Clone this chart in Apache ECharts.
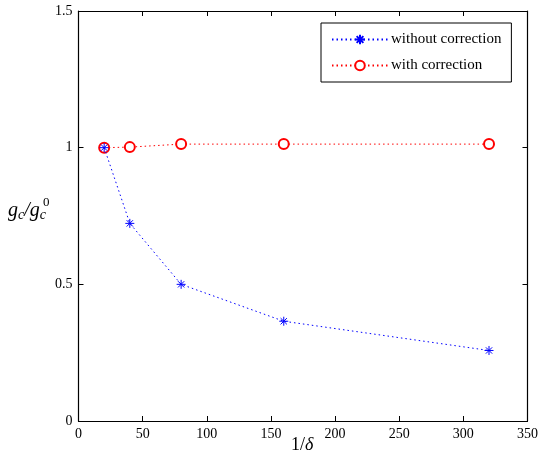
<!DOCTYPE html>
<html>
<head>
<meta charset="utf-8">
<script src="https://cdn.jsdelivr.net/npm/echarts@6/dist/echarts.min.js"></script>
<style>
  html, body { margin: 0; padding: 0; background: #fff; }
  #chart { width: 541px; height: 463px; }
</style>
</head>
<body>
<div id="chart"></div>
<script>
// data
const invDelta = [20, 40, 80, 160, 320];
const withoutCorrection = [1.0, 0.723, 0.5, 0.365, 0.258];
const withCorrection = [1.0, 1.002, 1.013, 1.013, 1.013];
const seriesNames = ["without correction", "with correction"];

const font = "Liberation Serif";
const asterisk =
  "path://M0,-1L0,1M-1,0L1,0M-0.7,-0.7L0.7,0.7M-0.7,0.7L0.7,-0.7";

const chart = echarts.init(document.getElementById("chart"));

const axisCommon = {
  type: "value",
  axisLine: { show: true, onZero: false, lineStyle: { color: "#000", width: 1.2 } },
  axisTick: { show: true, inside: true, length: 5, lineStyle: { color: "#000" } },
  splitLine: { show: false },
};

const chartOptions = {
  animation: false,
  backgroundColor: "#fff",
  grid: { left: 78.5, right: 10, top: 11, bottom: 42 },
  legend: {
    left: 321,
    top: 23,
    width: 188,
    orient: "vertical",
    padding: [9, 10, 9, 10],
    itemGap: 11,
    itemWidth: 56,
    itemHeight: 12,
    borderColor: "#000",
    borderWidth: 1,
    backgroundColor: "#fff",
    textStyle: { fontFamily: font, fontSize: 15, color: "#000", padding: [0, 0, 0, -2] },
    data: seriesNames,
  },
  xAxis: [
    {
      ...axisCommon,
      position: "bottom",
      min: 0,
      max: 350,
      interval: 50,
      axisLabel: { fontFamily: font, fontSize: 14, color: "#000", margin: 6 },
    },
    {
      ...axisCommon,
      position: "top",
      min: 0,
      max: 350,
      interval: 50,
      axisLabel: { show: false },
    },
  ],
  yAxis: [
    {
      ...axisCommon,
      position: "left",
      min: 0,
      max: 1.5,
      interval: 0.5,
      axisLabel: { fontFamily: font, fontSize: 14, color: "#000", margin: 6 },
    },
    {
      ...axisCommon,
      position: "right",
      min: 0,
      max: 1.5,
      interval: 0.5,
      axisLabel: { show: false },
    },
  ],
  graphic: [
    {
      type: "text",
      left: 8,
      top: 201,
      style: {
        text: "{i|g}{s|c}{i|/g}{s|c}",
        rich: {
          i: { fontFamily: font, fontStyle: "italic", fontSize: 20, color: "#000" },
          s: { fontFamily: font, fontStyle: "italic", fontSize: 14, color: "#000", padding: [9, 0, 0, 0] },
        },
      },
    },
    {
      type: "text",
      left: 43,
      top: 196,
      style: { text: "0", fontFamily: font, fontSize: 13, fill: "#000" },
    },
    {
      type: "text",
      left: 291,
      top: 436,
      style: {
        text: "{n|1/}{i|δ}",
        rich: {
          n: { fontFamily: font, fontSize: 18, color: "#000" },
          i: { fontFamily: font, fontStyle: "italic", fontSize: 18, color: "#000" },
        },
      },
    },
  ],
  series: [
    {
      name: seriesNames[0],
      type: "line",
      data: invDelta.map((x, i) => [x, withoutCorrection[i]]),
      symbol: asterisk,
      symbolSize: 9,
      showAllSymbol: true,
      itemStyle: { color: "#0000ff", borderColor: "#0000ff", borderWidth: 1 },
      lineStyle: { color: "#0000ff", width: 1, type: [1.5, 3] },
      z: 3,
    },
    {
      name: seriesNames[1],
      type: "line",
      data: invDelta.map((x, i) => [x, withCorrection[i]]),
      symbol: "emptyCircle",
      symbolSize: 10,
      showAllSymbol: true,
      itemStyle: { color: "#ff0000", borderColor: "#ff0000", borderWidth: 1 },
      lineStyle: { color: "#ff0000", width: 1, type: [1.5, 3] },
      z: 2,
    },
  ],
};

chart.setOption(chartOptions);
</script>
</body>
</html>
